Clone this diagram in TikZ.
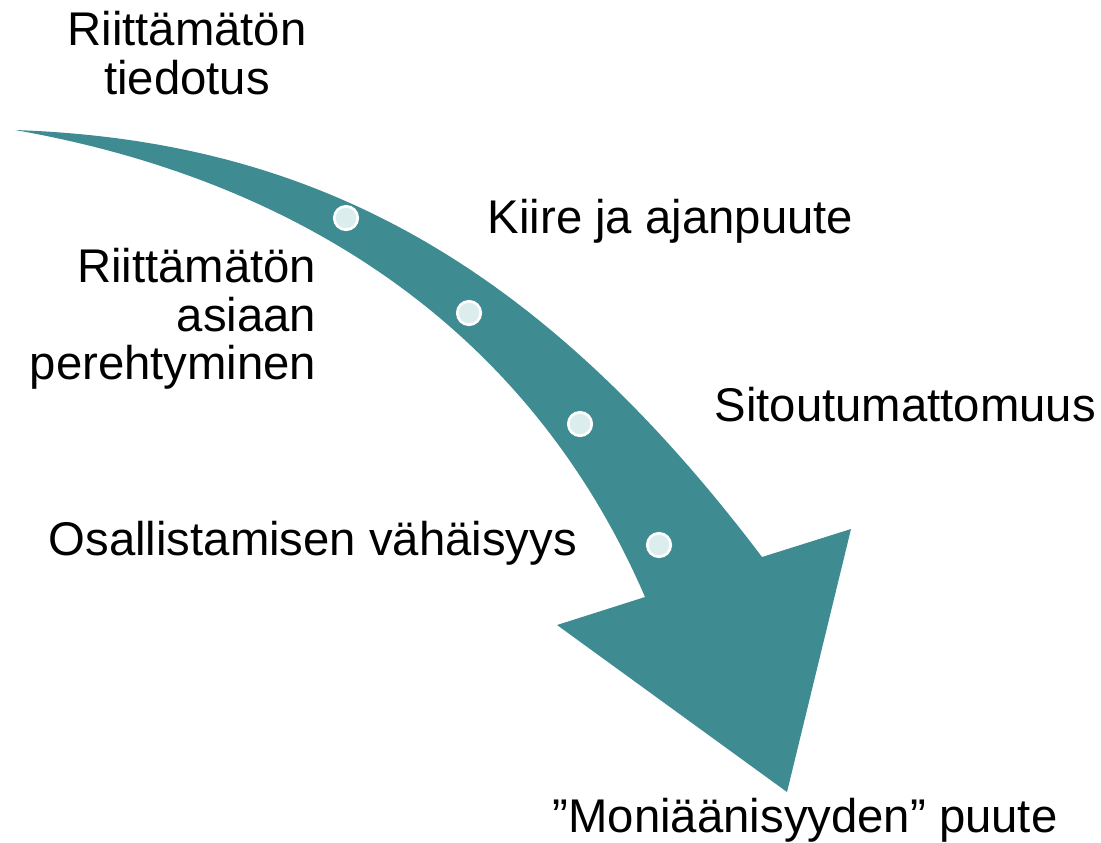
\documentclass[tikz,border=0pt]{standalone}
\usepackage{fontspec}
\setmainfont{Liberation Sans}
\usepackage{tikz}
\definecolor{arrowteal}{RGB}{62,140,145}
\definecolor{dotfill}{RGB}{220,237,238}
\tikzstyle{cause}=[inner sep=0mm,font=\fontsize{13.45pt}{13.7pt}\selectfont]
\tikzstyle{stage}=[circle,draw=white,fill=dotfill,line width=0.75pt,inner sep=0mm,minimum size=2.35mm]
\tikzset{every picture/.style={x=0.01cm,y=-0.01cm}}

\begin{document}
\begin{tikzpicture}
      \useasboundingbox (0,0) rectangle (1101,842);
      \fill[arrowteal] (15,130) .. controls (300,140) and (530,250) .. (762,557)
        -- (851,529) -- (787,792) -- (557,625) -- (645,597)
        .. controls (530,330) and (300,180) .. (15,130) -- cycle;
      \node[stage] at (346,218) (s1) {};
      \node[stage] at (469,313) (s2) {};
      \node[stage] at (580,424) (s3) {};
      \node[stage] at (659,545) (s4) {};
      \node[cause,anchor=north,align=center] at (187,11) (tiedotus) {Riittämätön\\tiedotus};
      \node[cause,anchor=base west] at (487,233) (kiire) {Kiire ja ajanpuute};
      \node[cause,anchor=north east,align=right] at (317,248) (perehtyminen) {Riittämätön\\asiaan\\perehtyminen};
      \node[cause,anchor=base west] at (714,421) (sitoutuminen) {Sitoutumattomuus};
      \node[cause,anchor=base west] at (48,555) (osallistaminen) {Osallistamisen vähäisyys};
      \node[cause,anchor=base west] at (552,832) (puute) {”Moniäänisyyden” puute};
    \end{tikzpicture}
\end{document}
